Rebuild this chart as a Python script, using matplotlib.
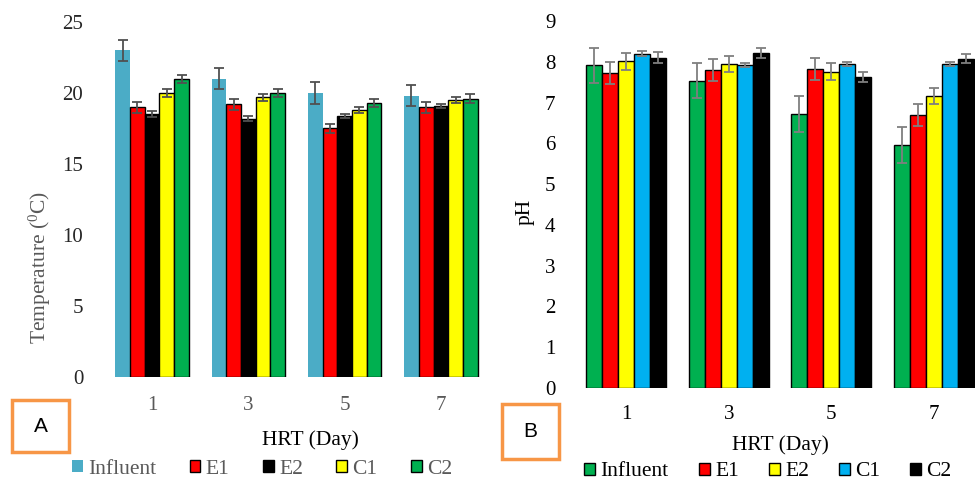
import numpy as np
import matplotlib
matplotlib.use('Agg')
import matplotlib.pyplot as plt
from matplotlib.patches import Rectangle

plt.rcParams['font.family'] = ['Liberation Serif', 'DejaVu Serif']
plt.rcParams['mathtext.fontset'] = 'stix'

hrt = ['1', '3', '5', '7']
series = ['Influent', 'E1', 'E2', 'C1', 'C2']

# Panel A - temperature (deg C)
temp = {
    'Influent': [23.0, 21.0, 20.0, 19.8],
    'E1': [19.0, 19.2, 17.5, 19.0],
    'E2': [18.5, 18.2, 18.4, 19.1],
    'C1': [20.0, 19.7, 18.8, 19.5],
    'C2': [21.0, 20.0, 19.3, 19.6],
}
temp_err = {
    'Influent': [0.75, 0.75, 0.75, 0.75],
    'E1': [0.4, 0.4, 0.3, 0.4],
    'E2': [0.2, 0.2, 0.15, 0.15],
    'C1': [0.25, 0.25, 0.2, 0.2],
    'C2': [0.3, 0.3, 0.3, 0.3],
}
# Panel B - pH
ph = {
    'Influent': [7.92, 7.54, 6.73, 5.96],
    'E1': [7.73, 7.80, 7.83, 6.70],
    'E2': [8.01, 7.94, 7.76, 7.16],
    'C1': [8.20, 7.92, 7.94, 7.94],
    'C2': [8.10, 8.22, 7.62, 8.08],
}
ph_err = {
    'Influent': [0.43, 0.44, 0.44, 0.44],
    'E1': [0.27, 0.27, 0.27, 0.27],
    'E2': [0.2, 0.2, 0.2, 0.2],
    'C1': [0.06, 0.05, 0.05, 0.05],
    'C2': [0.13, 0.12, 0.12, 0.12],
}

colors_a = ['#4BACC6', '#FF0000', '#000000', '#FFFF00', '#00B050']
colors_b = ['#00B050', '#FF0000', '#FFFF00', '#00B0F0', '#000000']
GREY = '#595959'

fig = plt.figure(figsize=(9.75, 4.8), dpi=100)
axA = fig.add_axes([104/975, 1-377/480, 385/975, 355/480])
axB = fig.add_axes([575/975, 1-388/480, 410/975, 367/480])

x = np.arange(len(hrt))


def draw(ax, data, err, colors, w, errcol, first_edge):
    for i, s in enumerate(series):
        pos = x + (i - 2) * w
        edge = 'black' if (i > 0 or first_edge) else 'none'
        ax.bar(pos, data[s], w, color=colors[i], edgecolor=edge,
               linewidth=1.0, label=s, zorder=2)
        ax.errorbar(pos, data[s], yerr=err[s], fmt='none', ecolor=errcol,
                    elinewidth=1.3, capsize=3.5, capthick=1.3, zorder=3)
    ax.set_xlim(-0.5, 3.5)
    ax.set_xticks(x)
    ax.set_xticklabels(hrt)
    for sp in ax.spines.values():
        sp.set_visible(False)
    ax.tick_params(length=0, labelsize=15)


# ---- A ----
draw(axA, temp, temp_err, colors_a, 0.153, '#505050', False)
axA.set_ylim(0, 25)
axA.set_yticks(range(0, 26, 5))
axA.tick_params(axis='y', pad=15, labelcolor='#262626')
axA.tick_params(axis='x', pad=14, labelcolor=GREY)
axA.set_ylabel('Temperature ($\\mathregular{^0}$C)', fontsize=15.5, color=GREY,
               va='center', ha='center')
axA.yaxis.set_label_coords(-0.166, 0.31)
axA.set_xlabel('HRT (Day)', fontsize=15.5, va='center')
axA.xaxis.set_label_coords(0.535, -0.177)
legA = fig.legend(*axA.get_legend_handles_labels(), loc='center',
                  bbox_to_anchor=(262/975, 1-469/480), ncol=5, frameon=False,
                  fontsize=15.5, handlelength=0.5, handleheight=0.5,
                  handletextpad=0.25, columnspacing=1.55, borderpad=0)
for t in legA.get_texts():
    t.set_color(GREY)

# ---- B ----
draw(axB, ph, ph_err, colors_b, 0.156, '#7F7F7F', True)
axB.set_ylim(0, 9)
axB.set_yticks(range(0, 10))
axB.tick_params(axis='y', pad=14)
axB.tick_params(axis='x', pad=12)
axB.set_ylabel('pH', fontsize=15.5, va='center', ha='center')
axB.yaxis.set_label_coords(-0.122, 0.48)
axB.set_xlabel('HRT (Day)', fontsize=15.5, va='center')
axB.xaxis.set_label_coords(0.5, -0.155)
fig.legend(*axB.get_legend_handles_labels(), loc='center',
           bbox_to_anchor=(768/975, 1-472/480), ncol=5, frameon=False,
           fontsize=15.5, handlelength=0.5, handleheight=0.5,
           handletextpad=0.25, columnspacing=1.4, borderpad=0)

# panel tags
for (x0, y0, x1, y1, tag) in [(12, 400, 69, 452, 'A'), (502, 404, 559, 459, 'B')]:
    fig.patches.append(Rectangle((x0/975, 1-y1/480), (x1-x0)/975, (y1-y0)/480,
                                 transform=fig.transFigure, fill=False,
                                 edgecolor='#F79646', linewidth=2.5))
    fig.text((x0+x1)/2/975, 1-(y0+y1)/2/480, tag, ha='center', va='center',
             fontsize=15, family='Liberation Sans')

fig.savefig('out.png', dpi=100)
